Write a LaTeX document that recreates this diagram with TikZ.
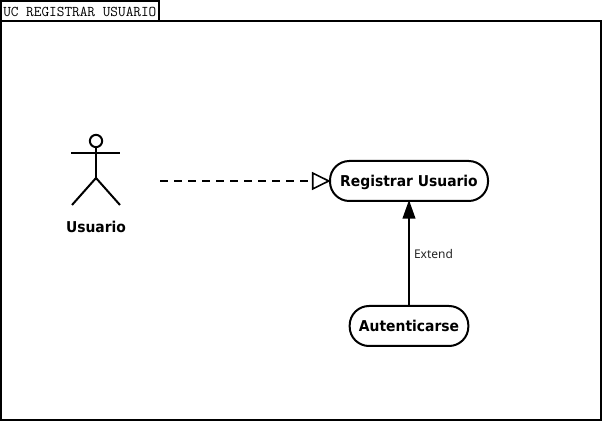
\documentclass[tikz,border=0pt]{standalone}
\usepackage{fontspec}
\setmainfont{Noto Sans}
\newfontfamily\boldface{DejaVu Sans Bold}[FakeStretch=0.93]
\usetikzlibrary{arrows.meta}
\tikzset{
  x=0.75pt,y=-0.75pt,
  frameline/.style={draw=black,line width=1.5pt},
  bigtext/.style={font=\boldface\fontsize{11.2pt}{13pt}\selectfont,text height=9pt,text depth=0pt},
  usecase/.style={draw=black,line width=1.5pt,rectangle,rounded corners=14.5pt,fill=white,inner sep=0pt,minimum height=30pt,bigtext},
  actorline/.style={draw=black,line width=1.5pt},
  reallabel/.style={inner sep=0pt,bigtext},
  realize/.style={draw=black,line width=1.2pt,dash pattern=on 6pt off 4.5pt,shorten >=-1.2pt,-{Triangle[open,length=14pt,width=13.5pt,line width=1.2pt,sep=0pt]}},
  extendline/.style={draw=black,line width=1.5pt,shorten >=-1.5pt,-{Triangle[length=14pt,width=9.5pt]}},
}
\begin{document}
\begin{tikzpicture}
\useasboundingbox (0,0) rectangle (603,423);
\fill[white] (0,0) rectangle (603,423);
\draw[frameline] (1,21) rectangle (601,420.5);
\draw[frameline] (1,21) rectangle (159,1.5);
\node[anchor=west,inner sep=0pt,font=\ttfamily\fontsize{11.15pt}{12pt}\selectfont] (title) at (3,11.5) {UC REGISTRAR USUARIO};
% actor
\draw[actorline] (96,141) circle (4.6pt);
\draw[actorline] (71,153) -- (120,153);
\draw[actorline] (96,147) -- (96,178);
\draw[actorline] (72,205) -- (96,178) -- (120,205);
\node[reallabel] (usuario) at (96,226.5) {Usuario};
\coordinate (actorend) at (160,181);
% use cases
\node[usecase,minimum width=118.5pt] (reg) at (409,181) {Registrar Usuario};
\node[usecase,minimum width=89pt] (aut) at (409,326) {Autenticarse};
\draw[realize] (actorend) -- (reg.west);
\draw[extendline] (aut.north) -- (aut.north |- reg.south) node[pos=0.5,right=3pt,inner sep=0pt,yshift=-0.5pt,font=\fontsize{9pt}{11pt}\selectfont,text=black!85] (extlabel) {Extend};
\end{tikzpicture}
\end{document}
